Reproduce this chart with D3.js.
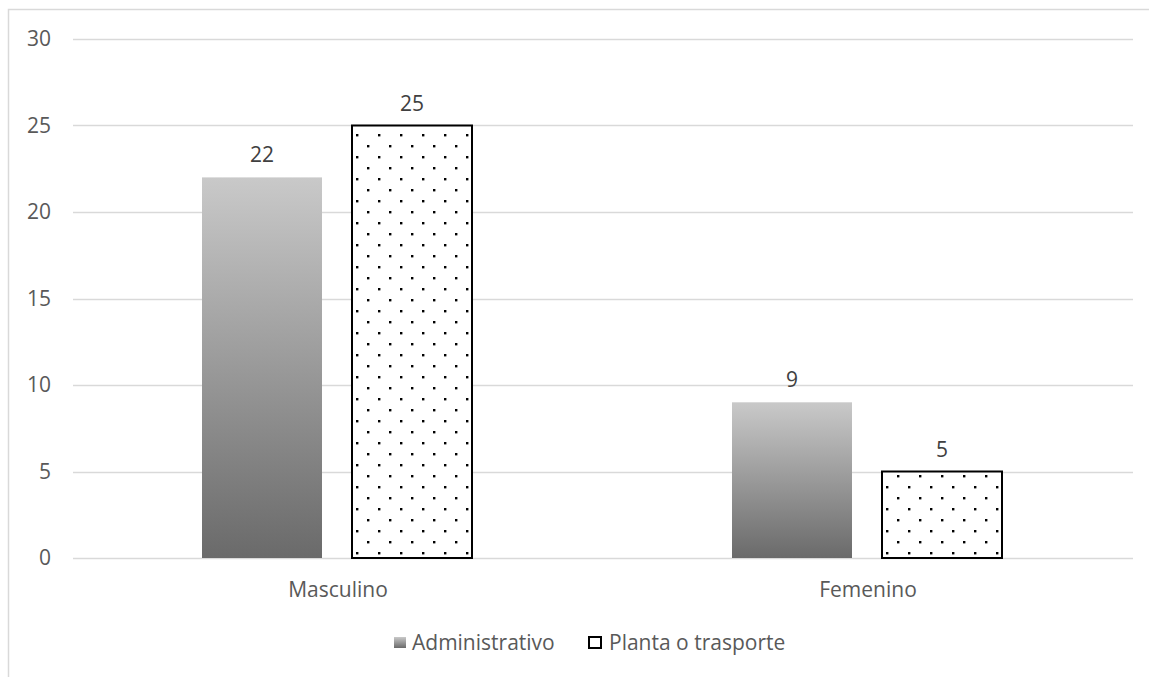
<!DOCTYPE html>
<html>
<head>
<meta charset="utf-8">
<script src="https://cdn.jsdelivr.net/npm/d3@7"></script>
<style>
  body { margin: 0; background: #fff; }
  svg text { font-family: "Open Sans", "Noto Sans", sans-serif; }
</style>
</head>
<body>
<div id="chart"></div>
<script>
// data
const categories = ["Masculino", "Femenino"];
const seriesNames = ["Administrativo", "Planta o trasporte"];
const administrativo = [22, 9];
const planta = [25, 5];
const yTicks = [0, 5, 10, 15, 20, 25, 30];

const W = 1149, H = 677;
const margin = {top: 39, right: 16, bottom: 119, left: 73};
const width = W - margin.left - margin.right,
      height = H - margin.top - margin.bottom;
const fs = "21px";

const svg = d3.select("#chart")
    .append("svg")
    .attr("width", W)
    .attr("height", H);

const defs = svg.append("defs");

// gradient for the administrativo bars
const grad = defs.append("linearGradient")
    .attr("id", "grayGrad")
    .attr("x1", 0).attr("y1", 0).attr("x2", 0).attr("y2", 1);
grad.append("stop").attr("offset", "0%").attr("stop-color", "#c9c9c9");
grad.append("stop").attr("offset", "100%").attr("stop-color", "#6a6a6a");

// dotted pattern
const pat = defs.append("pattern")
    .attr("id", "dots")
    .attr("patternUnits", "userSpaceOnUse")
    .attr("width", 22).attr("height", 22)
    .attr("x", 154).attr("y", 95);
pat.append("rect").attr("width", 22).attr("height", 22).attr("fill", "#fff");
pat.append("rect").attr("x", 0).attr("y", 0).attr("width", 2.4).attr("height", 2.4).attr("fill", "#000");
pat.append("rect").attr("x", 11).attr("y", 11).attr("width", 2.4).attr("height", 2.4).attr("fill", "#000");

// outer border of the chart area
svg.append("rect")
    .attr("x", 8.5).attr("y", 9.5)
    .attr("width", W).attr("height", H)
    .attr("fill", "none")
    .attr("stroke", "#d9d9d9")
    .attr("stroke-width", 1.5);

const g = svg.append("g")
    .attr("transform", `translate(${margin.left}, ${margin.top})`);

const y = d3.scaleLinear().domain([0, 30]).range([height, 0]);
const x0 = d3.scaleBand().domain(categories).range([0, width]).padding(0);
const x1 = d3.scaleBand().domain(seriesNames).range([0, 270]).paddingInner(0.2);

// grid lines
g.append("g")
    .attr("class", "grid")
    .selectAll("line")
    .data(yTicks)
    .join("line")
    .attr("x1", 0).attr("x2", width)
    .attr("y1", d => Math.round(y(d)) + 0.5)
    .attr("y2", d => Math.round(y(d)) + 0.5)
    .attr("stroke", "#d9d9d9")
    .attr("stroke-width", 1.3);

// y axis labels
const yAxis = g.append("g")
    .call(d3.axisLeft(y).tickValues(yTicks).tickSize(0).tickPadding(22));
yAxis.select(".domain").remove();
yAxis.selectAll("text")
    .attr("fill", "#595959")
    .style("font-size", fs);

// x axis labels
const xAxis = g.append("g")
    .attr("transform", `translate(0, ${height})`)
    .call(d3.axisBottom(x0).tickSize(0).tickPadding(24));
xAxis.select(".domain").remove();
xAxis.selectAll("text")
    .attr("fill", "#595959")
    .style("font-size", fs);

const rows = categories.map((c, i) => ({
    cat: c,
    vals: [
        {name: seriesNames[0], v: administrativo[i]},
        {name: seriesNames[1], v: planta[i]}
    ]
}));

const groups = g.selectAll(".grp")
    .data(rows)
    .join("g")
    .attr("class", "grp")
    .attr("transform", d => `translate(${x0(d.cat) + (x0.bandwidth() - 270) / 2 - 1}, 0)`);

groups.selectAll("rect")
    .data(d => d.vals)
    .join("rect")
    .attr("x", d => x1(d.name))
    .attr("y", d => y(d.v))
    .attr("width", x1.bandwidth())
    .attr("height", d => height - y(d.v))
    .attr("fill", (d, i) => i === 0 ? "url(#grayGrad)" : "url(#dots)")
    .attr("stroke", (d, i) => i === 0 ? "none" : "#000")
    .attr("stroke-width", 2);

// value labels
groups.selectAll(".lbl")
    .data(d => d.vals)
    .join("text")
    .attr("class", "lbl")
    .attr("x", d => x1(d.name) + x1.bandwidth() / 2)
    .attr("y", d => y(d.v) - 15)
    .attr("text-anchor", "middle")
    .attr("fill", "#404040")
    .style("font-size", fs)
    .text(d => d.v);

// legend
const legend = svg.append("g").attr("transform", "translate(394, 642)");
legend.append("rect")
    .attr("x", 0).attr("y", -5).attr("width", 12).attr("height", 11)
    .attr("fill", "url(#grayGrad)");
legend.append("text")
    .attr("x", 18).attr("y", 8)
    .attr("fill", "#595959")
    .style("font-size", fs)
    .text(seriesNames[0]);
legend.append("rect")
    .attr("x", 195).attr("y", -5).attr("width", 12).attr("height", 11)
    .attr("fill", "#fff")
    .attr("stroke", "#000")
    .attr("stroke-width", 2);
legend.append("text")
    .attr("x", 215).attr("y", 8)
    .attr("fill", "#595959")
    .style("font-size", fs)
    .text(seriesNames[1]);
</script>
</body>
</html>
